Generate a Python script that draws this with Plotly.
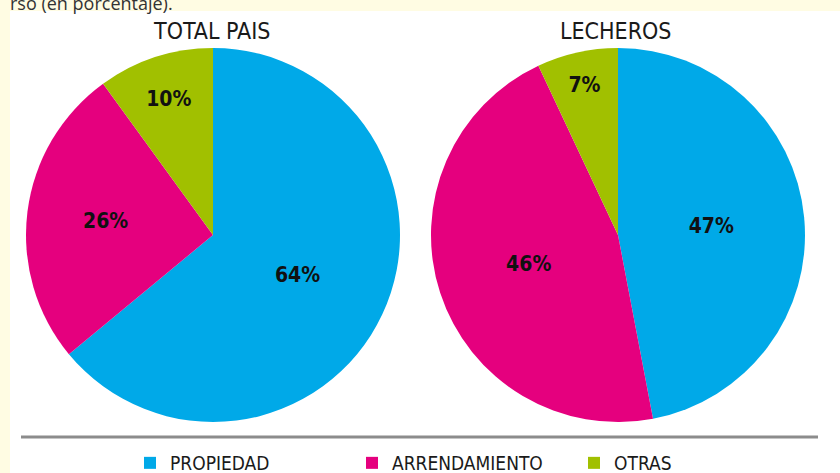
import plotly.graph_objects as go

categories = ["PROPIEDAD", "ARRENDAMIENTO", "OTRAS"]
total_pais = [64, 26, 10]
lecheros = [47, 46, 7]
titles = ["TOTAL PAIS", "LECHEROS"]
colors = ["#00A9E8", "#E5007E", "#A1C000"]

W, H = 840, 473
COND = "DejaVu Sans Condensed, Liberation Sans Narrow, Arial Narrow, sans-serif"

def px(x):
    return x / W

def py(y):
    return 1 - y / H

fig = go.Figure()
domains = [
    dict(x=[px(26), px(400)], y=[py(422), py(48)]),
    dict(x=[px(431), px(805)], y=[py(422), py(48)]),
]
for vals, dom, name in zip([total_pais, lecheros], domains, titles):
    fig.add_trace(go.Pie(
        labels=categories,
        values=vals,
        name=name,
        domain=dom,
        sort=False,
        direction="clockwise",
        rotation=0,
        marker=dict(colors=colors, line=dict(width=0)),
        texttemplate="<b>%{value}%</b>",
        textposition="inside",
        insidetextorientation="horizontal",
        textfont=dict(family=COND, size=21, color="#111111"),
        hoverinfo="label+percent",
        showlegend=(name == titles[0]),
    ))

annotations = [
    dict(text=titles[0], x=px(211), y=py(31), xref="paper", yref="paper",
         xanchor="center", yanchor="middle",
         showarrow=False, font=dict(family=COND, size=23, color="#1a1a1a")),
    dict(text=titles[1], x=px(616), y=py(31), xref="paper", yref="paper",
         xanchor="center", yanchor="middle",
         showarrow=False, font=dict(family=COND, size=23, color="#1a1a1a")),
    dict(text="rso (en porcentaje).", x=px(8), y=py(3), xref="paper", yref="paper",
         xanchor="left", yanchor="middle", showarrow=False,
         font=dict(family="Open Sans, sans-serif", size=18, color="#333333")),
]

shapes = [
    dict(type="rect", xref="paper", yref="paper", x0=px(10), x1=1.0, y0=0, y1=py(11),
         fillcolor="white", line=dict(width=0), layer="below"),
    dict(type="line", xref="paper", yref="paper", x0=px(21), x1=px(818), y0=py(437), y1=py(437),
         line=dict(color="#8c8c8c", width=3)),
]

fig.update_layout(
    width=W, height=H,
    margin=dict(l=0, r=0, t=0, b=0, autoexpand=False),
    paper_bgcolor="#FFFCE3",
    plot_bgcolor="white",
    annotations=annotations,
    shapes=shapes,
    legend=dict(orientation="h", x=px(130), xanchor="left", y=py(463), yanchor="middle",
                font=dict(family=COND, size=19, color="#1a1a1a"),
                itemwidth=30, entrywidth=177, entrywidthmode="pixels",
                bgcolor="rgba(0,0,0,0)"),
)

fig.write_html(
    "out.html",
    config={"displayModeBar": False},
    post_script="document.body.style.margin='0px';document.body.style.overflow='hidden';",
)
